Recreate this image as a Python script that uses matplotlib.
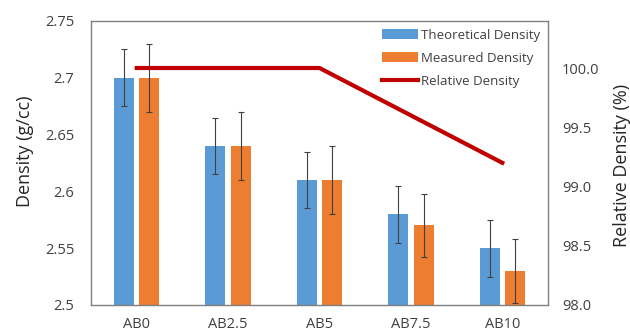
import numpy as np
import matplotlib
matplotlib.use("Agg")
import matplotlib.pyplot as plt

plt.rcParams['font.family'] = ['Open Sans', 'DejaVu Sans']

samples = ["AB0", "AB2.5", "AB5", "AB7.5", "AB10"]
theoretical = [2.70, 2.64, 2.61, 2.58, 2.55]
theoretical_err = [0.025, 0.025, 0.025, 0.025, 0.025]
measured = [2.70, 2.64, 2.61, 2.57, 2.53]
measured_err = [0.03, 0.03, 0.03, 0.028, 0.028]
relative = [100.0, 100.0, 100.0, 99.6, 99.2]

blue = "#5B9BD5"
orange = "#ED7D31"
red = "#C00000"
grey = "#404040"

fig = plt.figure(figsize=(6.3, 3.35), dpi=100)
ax = fig.add_axes([91 / 630, 30 / 335, 457 / 630, 284 / 335])
x = np.arange(len(samples))
w = 0.22
off = 0.139

ekw = dict(ecolor=grey, elinewidth=0.8, capsize=2.5, capthick=0.8)
b1 = ax.bar(x - off, theoretical, w, color=blue, yerr=theoretical_err, error_kw=ekw)
b2 = ax.bar(x + off, measured, w, color=orange, yerr=measured_err, error_kw=ekw)
ax.set_ylim(2.5, 2.75)
ax.set_xlim(-0.5, len(samples) - 0.5)
ax.set_yticks([2.5, 2.55, 2.6, 2.65, 2.7, 2.75])
ax.set_yticklabels(["2.5", "2.55", "2.6", "2.65", "2.7", "2.75"])
ax.set_xticks(x)
ax.set_xticklabels(samples)
ax.tick_params(axis="y", length=0, labelsize=10.5, colors="#404040", pad=12)
ax.tick_params(axis="x", length=0, labelsize=10.5, colors="#404040", pad=9)
ax.set_ylabel("Density (g/cc)", fontsize=13, color="#262626")
ax.yaxis.set_label_coords(-0.125, 0.54)
for s in ax.spines.values():
    s.set_color("#7f7f7f")
    s.set_linewidth(1.0)

ax2 = ax.twinx()
l1, = ax2.plot(x, relative, color=red, lw=3)
ax2.set_ylim(98.0, 98.0 + 2.0 * 284 / 237)
ax2.set_yticks([98.0, 98.5, 99.0, 99.5, 100.0])
ax2.set_yticklabels(["98.0", "98.5", "99.0", "99.5", "100.0"])
ax2.tick_params(length=0, labelsize=10.5, colors="#404040", pad=10)
ax2.set_ylabel("Relative Density (%)", fontsize=13, color="#262626")
ax2.yaxis.set_label_coords(1.143, 0.49)
for s in ax2.spines.values():
    s.set_visible(False)

ax2.legend([b1, b2, l1], ["Theoretical Density", "Measured Density", "Relative Density"],
           loc="upper right", bbox_to_anchor=(1.0, 1.0), frameon=False, fontsize=9.5,
           handlelength=2.7, handleheight=0.8, handletextpad=0.25, labelspacing=0.75,
           borderaxespad=0.2, labelcolor="#404040")

fig.savefig("out.png", dpi=100)
